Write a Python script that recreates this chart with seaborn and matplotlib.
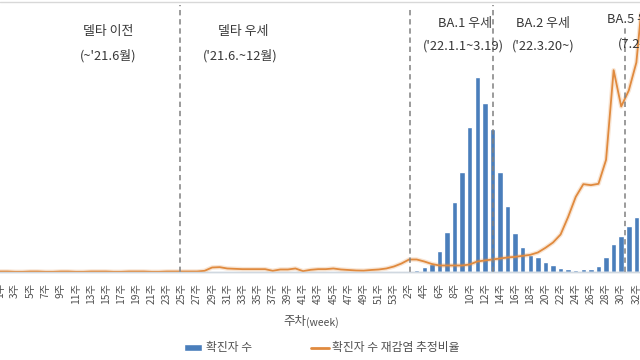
import matplotlib
matplotlib.use("Agg")
import matplotlib.pyplot as plt
from matplotlib.patches import Patch
from matplotlib.lines import Line2D
import pandas as pd
import seaborn as sns

sns.set_style("white")
plt.rcParams["font.family"] = ["Noto Sans CJK KR", "DejaVu Sans"]

# ---------------------------
# data
# ---------------------------
weeks_2021 = list(range(1, 54))
weeks_2022 = list(range(1, 34))

# weekly confirmed cases (thousands)
cases_2021 = [5, 4, 4, 3, 3, 3, 3, 3, 3, 3, 4, 3, 4, 4, 5, 5, 4, 4, 4, 4,
              4, 4, 3, 4, 4, 4, 8, 10, 12, 11, 10, 11, 11, 12, 12, 13, 13, 14, 14, 12,
              13, 14, 14, 15, 16, 16, 17, 18, 18, 17, 16, 15, 15]
cases_2022 = [18, 20, 30, 75, 122, 314, 588, 1020, 1443, 2100,
              2820, 2445, 2062, 1452, 962, 573, 363, 252, 219, 156,
              108, 69, 46, 36, 46, 50, 98, 228, 410, 526,
              670, 803, 880]

# estimated reinfection ratio (%)
reinf_2021 = [0.03, 0.03, 0.02, 0.02, 0.03, 0.03, 0.02, 0.02, 0.03, 0.03,
              0.02, 0.02, 0.03, 0.03, 0.03, 0.02, 0.02, 0.03, 0.03, 0.03,
              0.02, 0.02, 0.03, 0.03, 0.03, 0.03, 0.03, 0.05, 0.15, 0.16,
              0.12, 0.11, 0.10, 0.10, 0.10, 0.10, 0.05, 0.09, 0.09, 0.12,
              0.04, 0.08, 0.10, 0.10, 0.12, 0.09, 0.075, 0.06, 0.055, 0.075,
              0.09, 0.12, 0.18]
reinf_2022 = [0.27, 0.39, 0.39, 0.33, 0.255, 0.21, 0.21, 0.21, 0.21, 0.24,
              0.33, 0.36, 0.39, 0.42, 0.45, 0.47, 0.50, 0.53, 0.60, 0.74,
              0.90, 1.14, 1.67, 2.27, 2.65, 2.62, 2.66, 3.38, 6.07, 4.98,
              5.46, 6.30, 8.70]

labels = [f"{w}주" for w in weeks_2021] + [f"{w}주" for w in weeks_2022]
keys = [f"21-{w}" for w in weeks_2021] + [f"22-{w}" for w in weeks_2022]
df = pd.DataFrame({
    "key": keys,
    "label": labels,
    "pos": range(len(keys)),
    "cases": cases_2021 + cases_2022,
    "reinf": reinf_2021 + reinf_2022,
})

bar_color = "#4a7ebb"
line_color = "#e08a3e"
text_color = "#383838"

fig = plt.figure(figsize=(6.4, 3.6), dpi=100)
ax = fig.add_axes([0, 0.2431, 1, 0.7569])

sns.barplot(data=df, x="key", y="cases", color=bar_color, width=0.72,
            saturation=1, ax=ax)
ax.set_ylim(0, 3924)
ax.set_xlim(0.655, 84.48)

ax2 = ax.twinx()
sns.lineplot(x=df["pos"], y=df["reinf"], color=line_color, lw=3.2, alpha=0.22, ax=ax2)
sns.lineplot(x=df["pos"], y=df["reinf"], color=line_color, lw=1.3, ax=ax2)
ax2.set_ylim(0, 8.175)
ax2.set_xlim(0.655, 84.48)

# ticks every other week
ax.set_xticks(df["pos"][::2])
ax.set_xticklabels(df["label"][::2], rotation=90, fontsize=7.4, color="#505050")
ax.tick_params(axis="x", length=0, pad=7.5)
ax.set_yticks([])
ax2.set_yticks([])
ax.set_xlabel("")
ax.set_ylabel("")
ax2.set_xlabel("")
ax2.set_ylabel("")
for a in (ax, ax2):
    for s in ("top", "left", "right"):
        a.spines[s].set_visible(False)
    a.spines["bottom"].set_color("#d0d8e0")
    a.spines["bottom"].set_linewidth(1.0)

# period separators
for xpos, top in [(23.8, 0.98), (54.1, 0.97), (65.05, 0.98), (82.5, 0.90)]:
    ax2.axvline(xpos, ymin=0, ymax=top, color="#808080", lw=1.1,
                ls=(0, (3.5, 2.5)))

# top border
fig.add_artist(Line2D([0, 1], [1 - 2 / 360, 1 - 2 / 360], color="#d8d8d8", lw=1))

def px(x, y):
    return x / 640, 1 - y / 360

notes = [
    (108, 31, "델타 이전", "center"),
    (108, 56, "(~'21.6월)", "center"),
    (243, 31, "델타 우세", "center"),
    (240, 56, "('21.6.~12월)", "center"),
    (465, 24, "BA.1 우세", "center"),
    (463, 46, "('22.1.1~3.19)", "center"),
    (543, 24, "BA.2 우세", "center"),
    (543, 46, "('22.3.20~)", "center"),
    (607, 20, "BA.5 우세", "left"),
    (618, 44, "(7.24~)", "left"),
]
for x, y, t, ha in notes:
    fx, fy = px(x, y)
    fig.text(fx, fy, t, ha=ha, va="center", fontsize=9.3, color=text_color)

fx, fy = px(306, 322)
fig.text(fx, fy, "주차", ha="right", va="center", fontsize=9, color="#505050")
fx, fy = px(306, 323)
fig.text(fx, fy, "(week)", ha="left", va="center", fontsize=7.5, color="#505050")

handles = [Patch(facecolor=bar_color), Line2D([0], [0], color=line_color, lw=2)]
fig.legend(handles, ["확진자 수", "확진자 수 재감염 추정비율"], loc="center",
           bbox_to_anchor=px(322, 348), ncol=2, frameon=False, fontsize=8.5,
           handlelength=1.5, handleheight=0.5, columnspacing=5.0,
           handletextpad=0.3, labelcolor="#505050")

fig.savefig("out.png", dpi=100)
